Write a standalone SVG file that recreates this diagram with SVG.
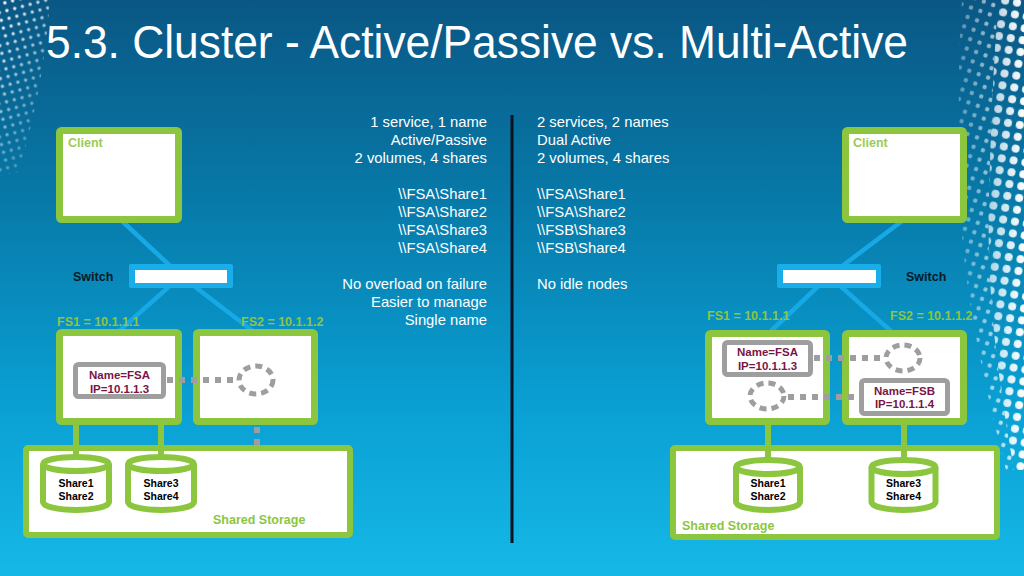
<svg xmlns="http://www.w3.org/2000/svg" width="1024" height="576" viewBox="0 0 1024 576">
  <defs>
    <linearGradient id="bg" x1="0" y1="0" x2="0" y2="1">
      <stop offset="0" stop-color="#0a5784"/>
      <stop offset="0.35" stop-color="#077aa9"/>
      <stop offset="0.7" stop-color="#0a9fd3"/>
      <stop offset="1" stop-color="#15b8e6"/>
    </linearGradient>
    <pattern id="dotsBig" width="12" height="12" patternUnits="userSpaceOnUse" patternTransform="rotate(10)">
      <circle cx="6" cy="6" r="4" fill="#ffffff"/>
    </pattern>
    <pattern id="dotsSmall" width="10" height="10" patternUnits="userSpaceOnUse" patternTransform="rotate(20)">
      <circle cx="5" cy="5" r="2.2" fill="#ffffff"/>
    </pattern>
    <pattern id="dotsTiny" width="8" height="8" patternUnits="userSpaceOnUse" patternTransform="rotate(-15)">
      <circle cx="4" cy="4" r="1.7" fill="#ffffff"/>
    </pattern>
    <linearGradient id="fadeDown" x1="0" y1="0" x2="0.6" y2="1">
      <stop offset="0" stop-color="#fff" stop-opacity="1"/>
      <stop offset="1" stop-color="#fff" stop-opacity="0.1"/>
    </linearGradient>
    <linearGradient id="fadeLeft" x1="1" y1="0" x2="0" y2="0">
      <stop offset="0" stop-color="#fff" stop-opacity="1"/>
      <stop offset="1" stop-color="#fff" stop-opacity="0.3"/>
    </linearGradient>
    <mask id="maskLeft">
      <rect x="0" y="0" width="60" height="180" fill="url(#fadeDown)"/>
    </mask>
    <mask id="maskRight">
      <rect x="950" y="0" width="74" height="480" fill="url(#fadeLeft)"/>
    </mask>
    <style>
      .gbox { fill: #ffffff; stroke: #8cc63f; stroke-width: 7; }
      .store { fill: #ffffff; stroke: #8cc63f; stroke-width: 6; }
      .cyl { fill: #ffffff; stroke: #8cc63f; stroke-width: 6; }
      .namebox { fill: #ffffff; stroke: #9e9e9e; stroke-width: 5; }
      .net { stroke: #17a9e6; stroke-width: 4.5; fill: none; }
      .link { stroke: #8cc63f; stroke-width: 6; fill: none; }
      .dot { stroke: #9e9e9e; stroke-width: 6; stroke-dasharray: 6 6; fill: none; }
      .ghost { stroke: #9e9e9e; stroke-width: 5; stroke-dasharray: 7 5; fill: none; }
      .lbl { font-family: "Liberation Sans", Arial, sans-serif; font-weight: bold; font-size: 12.5px; fill: #8cc63f; }
      .client { font-family: "Liberation Sans", Arial, sans-serif; font-weight: bold; font-size: 12.5px; fill: #9ccb55; }
      .sw { font-family: "Liberation Sans", Arial, sans-serif; font-weight: bold; font-size: 12.5px; fill: #08192a; }
      .nm { font-family: "Liberation Sans", Arial, sans-serif; font-weight: bold; font-size: 11.5px; fill: #7a1547; text-anchor: middle; }
      .sh { font-family: "Liberation Sans", Arial, sans-serif; font-weight: bold; font-size: 10.5px; fill: #000000; text-anchor: middle; }
      .body { font-family: "Liberation Sans", Arial, sans-serif; font-size: 14.8px; fill: #ffffff; }
      .title { font-family: "Liberation Sans", Arial, sans-serif; font-size: 47px; fill: #ffffff; }
    </style>
  </defs>

  <!-- background -->
  <rect x="0" y="0" width="1024" height="576" fill="url(#bg)"/>

  <!-- decorative dots -->
  <g id="decor">
    <path d="M0 0 L50 0 C46 50 38 110 18 172 L0 176 Z" fill="url(#dotsTiny)" mask="url(#maskLeft)"/>
    <g mask="url(#maskRight)">
      <path d="M998 0 L1024 0 L1024 470 L1014 470 C1000 390 986 300 989 200 C991 120 994 60 998 0 Z" fill="url(#dotsBig)"/>
      <path d="M962 0 L998 0 C994 60 991 120 989 200 C986 300 1000 390 1014 470 L1006 470 C986 390 962 290 960 195 C958 115 958 55 962 0 Z" fill="url(#dotsSmall)" opacity="0.85"/>
    </g>
  </g>

  <!-- title -->
  <text class="title" x="46" y="58" textLength="862" lengthAdjust="spacingAndGlyphs">5.3. Cluster - Active/Passive vs. Multi-Active</text>

  <!-- middle text -->
  <g id="text-left" class="body" text-anchor="end">
    <text x="487" y="127">1 service, 1 name</text>
    <text x="487" y="145">Active/Passive</text>
    <text x="487" y="163">2 volumes, 4 shares</text>
    <text x="487" y="199">\\FSA\Share1</text>
    <text x="487" y="217">\\FSA\Share2</text>
    <text x="487" y="235">\\FSA\Share3</text>
    <text x="487" y="253">\\FSA\Share4</text>
    <text x="487" y="289">No overload on failure</text>
    <text x="487" y="307">Easier to manage</text>
    <text x="487" y="325">Single name</text>
  </g>
  <g id="text-right" class="body">
    <text x="537" y="127">2 services, 2 names</text>
    <text x="537" y="145">Dual Active</text>
    <text x="537" y="163">2 volumes, 4 shares</text>
    <text x="537" y="199">\\FSA\Share1</text>
    <text x="537" y="217">\\FSA\Share2</text>
    <text x="537" y="235">\\FSB\Share3</text>
    <text x="537" y="253">\\FSB\Share4</text>
    <text x="537" y="289">No idle nodes</text>
  </g>
  <line id="divider" x1="512" y1="115" x2="512" y2="543" stroke="#07131f" stroke-width="3"/>

  <!-- network connectors (behind nodes and labels) -->
  <g id="connectors-network">
    <line class="net" x1="122" y1="221" x2="181" y2="276"/>
    <line class="net" x1="181" y1="276" x2="118" y2="332"/>
    <line class="net" x1="181" y1="276" x2="254" y2="332"/>
    <line class="net" x1="902" y1="221" x2="829" y2="276"/>
    <line class="net" x1="829" y1="276" x2="770" y2="332"/>
    <line class="net" x1="829" y1="276" x2="892" y2="332"/>
  </g>

  <!-- left diagram nodes -->
  <g id="client-left">
    <rect class="gbox" x="59.5" y="130.5" width="119" height="89" rx="2"/>
    <text class="client" x="68" y="147">Client</text>
  </g>
  <g id="switch-left">
    <rect x="129" y="264" width="104" height="24" rx="2" fill="#19aee9"/>
    <rect x="135" y="270" width="92" height="13" fill="#ffffff"/>
    <text class="sw" x="73" y="281">Switch</text>
  </g>
  <g id="storage-left">
    <rect class="store" x="26" y="448" width="324" height="87" rx="2"/>
    <text class="lbl" x="213" y="524">Shared Storage</text>
  </g>
  <g id="fs1-left">
    <rect class="gbox" x="59.5" y="332.5" width="119" height="89" rx="2"/>
    <text class="lbl" x="57" y="326">FS1 = 10.1.1.1</text>
  </g>
  <g id="fs2-left">
    <rect class="gbox" x="196.5" y="332.5" width="118" height="89" rx="2"/>
    <text class="lbl" x="241" y="326">FS2 = 10.1.1.2</text>
    <ellipse class="ghost" cx="256" cy="380" rx="17" ry="14"/>
  </g>
  <g id="fsa-left">
    <rect class="namebox" x="75.5" y="364.5" width="88" height="32" rx="3"/>
    <text class="nm" x="119.5" y="378.5">Name=FSA</text>
    <text class="nm" x="119.5" y="392.5">IP=10.1.1.3</text>
  </g>
  <g id="vol1-left">
    <path class="cyl" d="M43 464 L43 502 A33 8 0 0 0 109 502 L109 464"/>
    <ellipse class="cyl" cx="76" cy="464" rx="33" ry="7"/>
    <text class="sh" x="76" y="487">Share1</text>
    <text class="sh" x="76" y="500">Share2</text>
  </g>
  <g id="vol2-left">
    <path class="cyl" d="M128 464 L128 502 A33 8 0 0 0 194 502 L194 464"/>
    <ellipse class="cyl" cx="161" cy="464" rx="33" ry="7"/>
    <text class="sh" x="161" y="487">Share3</text>
    <text class="sh" x="161" y="500">Share4</text>
  </g>

  <!-- right diagram nodes -->
  <g id="client-right">
    <rect class="gbox" x="845.5" y="130.5" width="118" height="89" rx="2"/>
    <text class="client" x="853" y="147">Client</text>
  </g>
  <g id="switch-right">
    <rect x="777" y="264" width="104" height="24" rx="2" fill="#19aee9"/>
    <rect x="783" y="270" width="93" height="13" fill="#ffffff"/>
    <text class="sw" x="906" y="281">Switch</text>
  </g>
  <g id="storage-right">
    <rect class="store" x="673" y="448" width="324" height="89" rx="2"/>
    <text class="lbl" x="682" y="530">Shared Storage</text>
  </g>
  <g id="fs1-right">
    <rect class="gbox" x="708.5" y="333.5" width="118" height="88" rx="2"/>
    <text class="lbl" x="707" y="320">FS1 = 10.1.1.1</text>
    <ellipse class="ghost" cx="767" cy="396" rx="17" ry="13"/>
  </g>
  <g id="fs2-right">
    <rect class="gbox" x="845.5" y="333.5" width="118" height="88" rx="2"/>
    <text class="lbl" x="890" y="320">FS2 = 10.1.1.2</text>
    <ellipse class="ghost" cx="903" cy="358" rx="17" ry="13"/>
  </g>
  <g id="fsa-right">
    <rect class="namebox" x="724.5" y="342.5" width="86" height="32" rx="3"/>
    <text class="nm" x="767.5" y="356">Name=FSA</text>
    <text class="nm" x="767.5" y="370">IP=10.1.1.3</text>
  </g>
  <g id="fsb-right">
    <rect class="namebox" x="861.5" y="380.5" width="86" height="33" rx="3"/>
    <text class="nm" x="904.5" y="394.5">Name=FSB</text>
    <text class="nm" x="904.5" y="408">IP=10.1.1.4</text>
  </g>
  <g id="vol1-right">
    <path class="cyl" d="M736 467 L736 502 A32 8 0 0 0 800 502 L800 467"/>
    <ellipse class="cyl" cx="768" cy="467" rx="32" ry="7"/>
    <text class="sh" x="768" y="487">Share1</text>
    <text class="sh" x="768" y="500">Share2</text>
  </g>
  <g id="vol2-right">
    <path class="cyl" d="M871.5 467 L871.5 502 A32 8 0 0 0 935.5 502 L935.5 467"/>
    <ellipse class="cyl" cx="903.5" cy="467" rx="32" ry="7"/>
    <text class="sh" x="903.5" y="487">Share3</text>
    <text class="sh" x="903.5" y="500">Share4</text>
  </g>

  <!-- storage links and failover paths (over node fills) -->
  <g id="connectors">
    <line class="link" x1="76" y1="425" x2="76" y2="455"/>
    <line class="link" x1="161" y1="425" x2="161" y2="455"/>
    <line class="dot" x1="257" y1="427" x2="257" y2="446"/>
    <line class="link" x1="768" y1="425" x2="768" y2="458"/>
    <line class="link" x1="904" y1="425" x2="904" y2="458"/>
    <line class="dot" x1="167" y1="380" x2="236" y2="380"/>
    <line class="dot" x1="814" y1="358" x2="884" y2="358"/>
    <line class="dot" x1="788" y1="397" x2="859" y2="397"/>
  </g>
</svg>
